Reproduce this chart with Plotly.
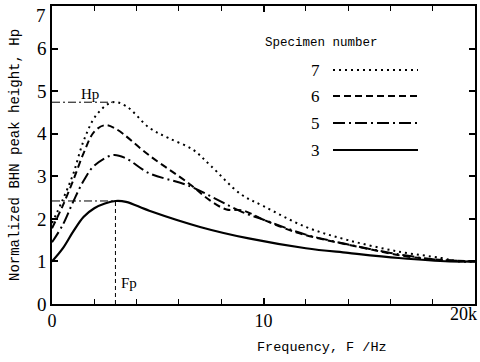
import plotly.graph_objects as go

# ---- data ----
freq7 = [0, 0.5, 1.0, 1.5, 2.1, 2.85, 3.5, 4.6, 5.5, 6.65, 7.5, 8.9, 10, 12, 14, 16.4, 18.4, 19.2, 20]
hp7 = [1.9, 2.44, 3.05, 3.84, 4.44, 4.74, 4.65, 4.14, 3.9, 3.63, 3.25, 2.59, 2.3, 1.81, 1.5, 1.23, 1.08, 1.0, 1.0]

freq6 = [0, 0.5, 1.0, 1.5, 2.0, 2.5, 3.0, 4.6, 6.5, 7.45, 8.25, 9.0, 10, 11.7, 14.8, 16.7, 18, 20]
hp6 = [1.78, 2.3, 2.9, 3.55, 4.05, 4.2, 4.12, 3.49, 2.82, 2.44, 2.22, 2.2, 1.98, 1.66, 1.31, 1.12, 1.05, 1.0]

freq5 = [0, 0.5, 1.0, 1.5, 2.0, 2.9, 3.5, 4.6, 6.4, 9.0, 10, 12, 14, 16, 17, 18, 20]
hp5 = [1.45, 1.85, 2.4, 2.9, 3.25, 3.5, 3.42, 3.07, 2.79, 2.16, 1.98, 1.63, 1.4, 1.2, 1.12, 1.05, 1.0]

freq3 = [0, 0.5, 1.0, 1.5, 2.0, 2.5, 3.0, 3.5, 4.6, 7, 9.3, 12, 14, 16.4, 18.8, 20]
hp3 = [1.0, 1.3, 1.7, 2.05, 2.25, 2.36, 2.42, 2.4, 2.19, 1.81, 1.54, 1.31, 1.2, 1.08, 1.0, 1.0]

hp_peak = 4.74
hp_peak_f = 2.85
fp_val = 2.42
fp_f = 3.0

specimens = ["7", "6", "5", "3"]
x_tickvals = [0, 10, 20]
x_ticktext = ["0", "10", ""]      # "20k" placed as an annotation so it is not clipped
x_last_label = "20k"
y_tickvals = [0, 1, 2, 3, 4, 5, 6, 7]
y_ticktext = ["0", "1", "2", "3", "4", "5", "6", ""]   # "7" placed as an annotation
y_top_label = "7"

dashes = {"7": "2px,4px", "6": "7px,4px", "5": "12px,4px,2px,4px", "3": "solid"}
series = {"7": (freq7, hp7), "6": (freq6, hp6), "5": (freq5, hp5), "3": (freq3, hp3)}

fig = go.Figure()

# reference lines
fig.add_trace(go.Scatter(x=[0, hp_peak_f], y=[hp_peak, hp_peak], mode="lines",
                         line=dict(color="black", width=1, dash="8px,3px,2px,3px"), showlegend=False))
fig.add_trace(go.Scatter(x=[0, fp_f], y=[fp_val, fp_val], mode="lines",
                         line=dict(color="black", width=1, dash="8px,3px,2px,3px"), showlegend=False))
fig.add_trace(go.Scatter(x=[fp_f, fp_f], y=[0, fp_val], mode="lines",
                         line=dict(color="black", width=1, dash="4px,3px"), showlegend=False))

for s in specimens:
    fx, fy = series[s]
    fig.add_trace(go.Scatter(x=fx, y=fy, mode="lines", line_shape="spline",
                             line=dict(color="black", width=2 if s != "3" else 2.2, dash=dashes[s]),
                             showlegend=False))

# manual legend
L, R, T, B = 52, 475, 6, 304
W, H = R - L, B - T
def px(x): return (x - L) / W
def py(y): return (B - y) / H

leg_y = {"7": 70, "6": 96, "5": 123, "3": 150}
for s in specimens:
    fig.add_shape(type="line", xref="paper", yref="paper",
                  x0=px(333), x1=px(418), y0=py(leg_y[s]), y1=py(leg_y[s]),
                  line=dict(color="black", width=2, dash=dashes[s]))
    fig.add_annotation(xref="paper", yref="paper", x=px(322), y=py(leg_y[s]),
                       text=s, showarrow=False, xanchor="right", yanchor="middle",
                       font=dict(family="Liberation Serif", size=17, color="black"))

fig.add_annotation(xref="paper", yref="paper", x=px(263), y=py(43),
                   text="Specimen number", showarrow=False, xanchor="left", yanchor="middle",
                   font=dict(family="Liberation Mono", size=12.5, color="black"))
fig.add_annotation(xref="paper", yref="paper", x=px(79), y=py(94),
                   text="Hp", showarrow=False, xanchor="left", yanchor="middle",
                   font=dict(family="Liberation Serif", size=15, color="black"))
fig.add_annotation(xref="paper", yref="paper", x=px(119), y=py(283),
                   text="Fp", showarrow=False, xanchor="left", yanchor="middle",
                   font=dict(family="Liberation Serif", size=15, color="black"))
fig.add_annotation(xref="paper", yref="paper", x=px(322), y=py(347),
                   text="Frequency, F /Hz", showarrow=False, xanchor="center", yanchor="middle",
                   font=dict(family="Liberation Mono", size=13.5, color="black"))
fig.add_annotation(xref="paper", yref="paper", x=px(15), y=py(155),
                   text="Normalized BHN peak height, Hp", showarrow=False, textangle=-90,
                   xanchor="center", yanchor="middle",
                   font=dict(family="Liberation Mono", size=14, color="black"))
# edge tick labels
fig.add_annotation(xref="paper", yref="paper", x=px(479), y=py(314),
                   text=x_last_label, showarrow=False, xanchor="right", yanchor="middle",
                   font=dict(family="Liberation Serif", size=18, color="black"))
fig.add_annotation(xref="paper", yref="paper", x=px(48), y=py(16),
                   text=y_top_label, showarrow=False, xanchor="right", yanchor="middle",
                   font=dict(family="Liberation Serif", size=19, color="black"))

fig.update_xaxes(range=[0, 20], tickvals=x_tickvals, ticktext=x_ticktext, automargin=False,
                 ticks="inside", ticklen=6, tickwidth=1.5, tickcolor="black",
                 minor=dict(dtick=2, ticks="inside", ticklen=5, tickwidth=1.2, tickcolor="black"),
                 showline=True, linecolor="black", linewidth=1.5, mirror="allticks",
                 showgrid=False, zeroline=False, ticklabeloverflow="allow",
                 tickfont=dict(family="Liberation Serif", size=18, color="black"))
fig.update_yaxes(range=[0, 7], tickvals=y_tickvals, ticktext=y_ticktext, automargin=False,
                 ticks="inside", ticklen=6, tickwidth=1.5, tickcolor="black",
                 showline=True, linecolor="black", linewidth=1.5, mirror="allticks",
                 showgrid=False, zeroline=False, ticklabeloverflow="allow",
                 tickfont=dict(family="Liberation Serif", size=19, color="black"))

fig.update_layout(width=480, height=362, margin=dict(l=L, r=480 - R, t=T, b=362 - B),
                  plot_bgcolor="white", paper_bgcolor="white", showlegend=False)

fig.write_html("out.html")
